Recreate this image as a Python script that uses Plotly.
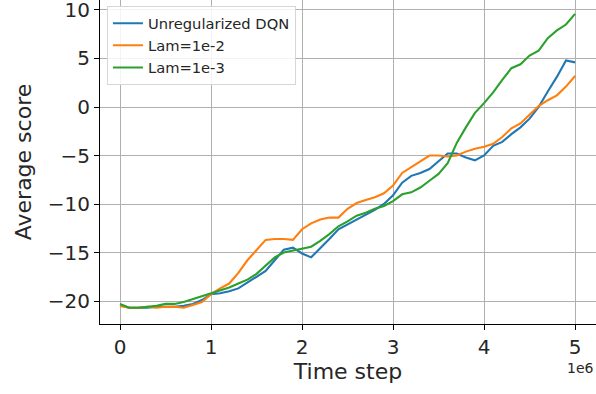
import plotly.graph_objects as go

# Time steps in units of 1e6
time_steps_1e6 = [0.0, 0.1, 0.2, 0.3, 0.4, 0.5, 0.6, 0.7, 0.8, 0.9,
                  1.0, 1.1, 1.2, 1.3, 1.4, 1.5, 1.6, 1.7, 1.8, 1.9,
                  2.0, 2.1, 2.2, 2.3, 2.4, 2.5, 2.6, 2.7, 2.8, 2.9,
                  3.0, 3.1, 3.2, 3.3, 3.4, 3.5, 3.6, 3.7, 3.8, 3.9,
                  4.0, 4.1, 4.2, 4.3, 4.4, 4.5, 4.6, 4.7, 4.8, 4.9, 5.0]

unregularized_dqn = [-20.4, -20.7, -20.7, -20.7, -20.6, -20.6, -20.6, -20.5, -20.3, -19.9,
                     -19.3, -19.2, -19.0, -18.7, -18.1, -17.5, -16.9, -15.8, -14.7, -14.5,
                     -15.1, -15.5, -14.6, -13.6, -12.6, -12.1, -11.6, -11.1, -10.6, -10.0,
                     -9.1, -7.8, -7.1, -6.8, -6.4, -5.6, -4.8, -4.8, -5.2, -5.5,
                     -5.0, -4.0, -3.6, -2.8, -2.1, -1.2, 0.0, 1.6, 3.1, 4.8, 4.6]

lam_1e2 = [-20.5, -20.7, -20.7, -20.6, -20.7, -20.6, -20.6, -20.7, -20.4, -20.1,
           -19.3, -18.7, -18.2, -17.1, -15.8, -14.8, -13.7, -13.6, -13.6, -13.7,
           -12.6, -12.0, -11.6, -11.4, -11.4, -10.5, -9.9, -9.6, -9.3, -8.9,
           -8.1, -6.8, -6.2, -5.6, -5.0, -5.0, -5.1, -5.0, -4.6, -4.3,
           -4.1, -3.8, -3.1, -2.2, -1.7, -0.8, 0.1, 0.7, 1.2, 2.1, 3.2]

lam_1e3 = [-20.3, -20.7, -20.7, -20.6, -20.5, -20.3, -20.3, -20.1, -19.8, -19.5,
           -19.2, -18.9, -18.6, -18.2, -17.8, -17.2, -16.3, -15.5, -15.0, -14.8,
           -14.6, -14.4, -13.8, -13.1, -12.3, -11.8, -11.2, -10.9, -10.5, -10.2,
           -9.7, -9.0, -8.8, -8.3, -7.6, -6.9, -5.8, -3.7, -2.1, -0.6,
           0.4, 1.5, 2.8, 4.0, 4.4, 5.3, 5.8, 7.1, 7.9, 8.5, 9.6]

series_names = ["Unregularized DQN", "Lam=1e-2", "Lam=1e-3"]
series_colors = ["#1f77b4", "#ff7f0e", "#2ca02c"]

x_tick_values_1e6 = [0, 1, 2, 3, 4, 5]
x_tick_labels = ["0", "1", "2", "3", "4", "5"]
y_tick_values = [-20, -15, -10, -5, 0, 5, 10]
y_tick_labels = ["\u221220", "\u221215", "\u221210", "\u22125", "0", "5", "10"]

xs = [v * 1e6 for v in time_steps_1e6]

fig = go.Figure()
for name, ys, col in zip(series_names, [unregularized_dqn, lam_1e2, lam_1e3], series_colors):
    fig.add_trace(go.Scatter(x=xs, y=ys, mode="lines", name=name,
                             line=dict(color=col, width=2.1)))

font_family = "DejaVu Sans"
fig.update_layout(
    width=596, height=394,
    margin=dict(l=100, r=0, t=0, b=70, autoexpand=False),
    paper_bgcolor="white", plot_bgcolor="white",
    font=dict(family=font_family, color="#262626"),
    showlegend=True,
    legend=dict(x=0.014, y=0.981, xanchor="left", yanchor="top",
                bgcolor="rgba(255,255,255,0.85)", bordercolor="#d6d6d6", borderwidth=1,
                font=dict(family=font_family, size=14.7, color="#262626")),
    xaxis=dict(range=[-0.22e6, 5.23e6], automargin=False, ticklabeloverflow="allow",
               tickvals=[v * 1e6 for v in x_tick_values_1e6], ticktext=x_tick_labels,
               showgrid=True, gridcolor="#b0b0b0", gridwidth=1.1,
               zeroline=False, showline=True, linecolor="black", linewidth=1.1,
               ticks="outside", ticklen=5, tickwidth=1.1, tickcolor="black",
               tickfont=dict(size=20, color="#262626"),
               title=dict(text="Time step", font=dict(size=22, color="#262626"), standoff=5)),
    yaxis=dict(range=[-22.37, 11.03], automargin=False, ticklabeloverflow="allow",
               tickvals=y_tick_values, ticktext=y_tick_labels,
               showgrid=True, gridcolor="#b0b0b0", gridwidth=1.1,
               zeroline=False, showline=True, linecolor="black", linewidth=1.1,
               ticks="outside", ticklen=5, tickwidth=1.1, tickcolor="black",
               tickfont=dict(size=20, color="#262626"),
               title=dict(text="Average score", font=dict(size=22, color="#262626"), standoff=10)),
)

fig.add_annotation(text="1e6", xref="paper", yref="paper", x=0.999, y=-0.136,
                   xanchor="right", yanchor="middle", showarrow=False,
                   font=dict(family=font_family, size=14, color="#262626"))

fig.write_html("out.html", config={"displayModeBar": False},
               post_script="document.body.style.margin='0';document.body.style.overflow='hidden';")
